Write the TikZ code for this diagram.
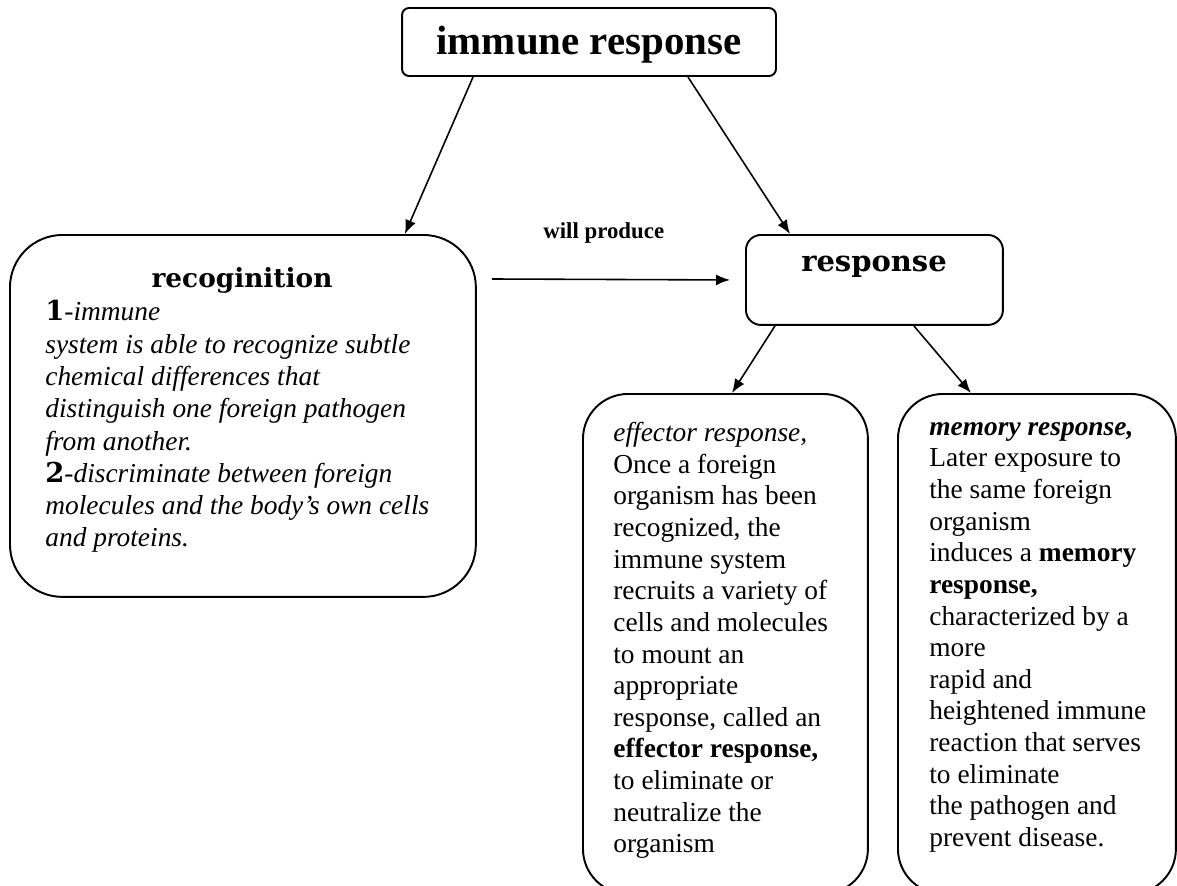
\documentclass[tikz,border=0pt]{standalone}
\usepackage{fontspec}
\setmainfont{Liberation Serif}
\newfontfamily\headfont{DejaVu Serif}
\usepackage{tikz}
\usetikzlibrary{arrows.meta,positioning}

\begin{document}
\begin{tikzpicture}[
    x=0.02cm, y=-0.02cm,
    roundbox/.style={
        draw=black,
        line width=1.1pt,
        rounded corners=#1,
        inner sep=0pt
    },
    bodytext/.style={
        anchor=north west,
        align=left,
        inner sep=0pt,
        font=\fontsize{15.6pt}{18pt}\selectfont
    },
    heading/.style={
        inner sep=0pt,
        font=\headfont\bfseries\fontsize{15pt}{18pt}\selectfont
    },
    flowarrow/.style={line width=0.9pt,-{Latex[length=0.28cm,width=0.22cm]}}
]
\useasboundingbox (0,0) rectangle (1177,886);
% boxes
\node (title) [roundbox=0.14cm, minimum width=7.48cm, minimum height=1.36cm, text depth=0.05cm,
    font=\bfseries\fontsize{23.3pt}{28pt}\selectfont] at (589,42) {immune response};
\node (recog) [roundbox=1.05cm, minimum width=9.32cm, minimum height=7.24cm, anchor=north west] at (9,234) {};
\node (respbox) [roundbox=0.3cm, minimum width=5.14cm, minimum height=1.8cm, anchor=north west] at (745,234) {};
\node (effbox) [roundbox=0.9cm, minimum width=5.7cm, minimum height=10cm, anchor=north west] at (582,393) {};
\node (membox) [roundbox=0.9cm, minimum width=5.56cm, minimum height=10cm, anchor=north west] at (897,393) {};
% texts
\node (recoghead) [heading] at (242,280) {recoginition};
\node (recogtext) [bodytext, font=\fontsize{15.6pt}{18.4pt}\selectfont\itshape] at (45,300) {%
    {\upshape\headfont\bfseries 1}-immune\\
    system is able to recognize subtle\\
    chemical differences that\\
    distinguish one foreign pathogen\\
    from another.\\
    {\upshape\headfont\bfseries 2}-discriminate between foreign\\
    molecules and the body’s own cells\\
    and proteins.};
\node (resphead) [heading, font=\headfont\bfseries\fontsize{16.5pt}{19pt}\selectfont] at (874,267) {response};
\node (efftext) [bodytext] at (613,422) {%
    \textit{effector response,}\\
    Once a foreign\\
    organism has been\\
    recognized, the\\
    immune system\\
    recruits a variety of\\
    cells and molecules\\
    to mount an\\
    appropriate\\
    response, called an\\
    \textbf{effector response,}\\
    to eliminate or\\
    neutralize the\\
    organism};
\node (memtext) [bodytext] at (929,422) {%
    \textbf{\textit{memory response,}}\\
    Later exposure to\\
    the same foreign\\
    organism\\
    induces a \textbf{memory}\\
    \textbf{response,}\\
    characterized by a\\
    more\\
    rapid and\\
    heightened immune\\
    reaction that serves\\
    to eliminate\\
    the pathogen and\\
    prevent disease.};
% connectors
\draw [flowarrow] ([xshift=1.44cm]title.south west) -- ([xshift=-1.44cm]recog.north east);
\draw [flowarrow] ([xshift=-1.78cm]title.south east) -- ([xshift=0.9cm]respbox.north west);
\draw [flowarrow] ([xshift=0.3cm,yshift=-0.9cm]recog.north east) --
    node (produce) [pos=0.47, above=0.7cm, inner sep=0pt, font=\bfseries\fontsize{13pt}{15pt}\selectfont] {will produce}
    ([xshift=-0.3cm]respbox.west);
\draw [flowarrow] ([xshift=0.6cm]respbox.south west) -- ([xshift=3cm]effbox.north west);
\draw [flowarrow] ([xshift=-1.8cm]respbox.south east) -- ([xshift=1.48cm]membox.north west);
\end{tikzpicture}
\end{document}
